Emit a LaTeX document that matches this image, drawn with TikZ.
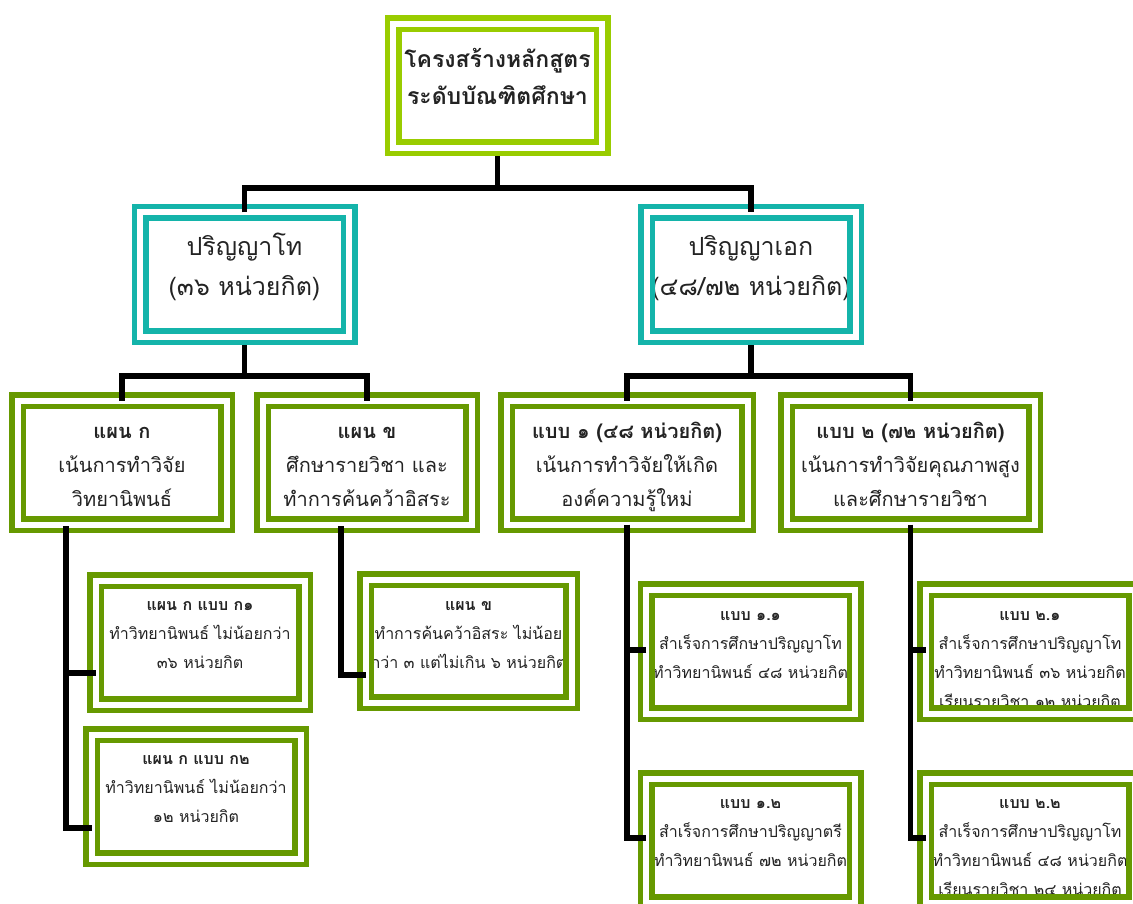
\documentclass[tikz,border=0pt]{standalone}
\usepackage{fontspec}
\setmainfont[Script=Thai]{Loma}
\pgfdeclarelayer{front}
\pgfsetlayers{main,front}

\definecolor{limegreen}{RGB}{153,204,0}
\definecolor{tealframe}{RGB}{20,180,170}
\definecolor{olivegreen}{RGB}{102,153,0}
\definecolor{ink}{RGB}{35,35,35}

% fixed first-line height so every text block starts at a known baseline
\newcommand\firstln{\rule{0pt}{1.3em}}

\tikzset{
  frame/.style={draw=#1, line width=5.5pt, double=white, double distance=6pt,
    inner sep=0pt, outer sep=0pt, minimum width=209pt, minimum height=124pt},
  link/.style={draw=black, line width=5.5pt, line join=miter},
  boxtext/.style={anchor=north, align=center, inner sep=0pt, text=ink},
  toptext/.style={boxtext, font=\fontsize{23}{37}\selectfont\bfseries},
  degtext/.style={boxtext, font=\fontsize{25}{40}\selectfont},
  plantext/.style={boxtext, font=\fontsize{20}{34}\selectfont},
  subtext/.style={boxtext, font=\fontsize{16}{29}\selectfont},
}

\begin{document}
\begin{tikzpicture}[x=1pt, y=-1pt]
\useasboundingbox (0,0) rectangle (1133,904);
\fill[white] (0,0) rectangle (1133,904);

% ---- frames (drawn above the text) ----
\begin{pgfonlayer}{front}
\node[frame=limegreen] (T) at (497.5,86) {};
\node[frame=tealframe] (M1) at (244.5,274.5) {};
\node[frame=tealframe] (M2) at (751,274.5) {};
\node[frame=olivegreen] (L1) at (122,462.5) {};
\node[frame=olivegreen] (L2) at (367,462.5) {};
\node[frame=olivegreen, minimum width=241pt] (L3) at (627,462.5) {};
\node[frame=olivegreen, minimum width=248pt] (L4) at (910.5,462.5) {};
\node[frame=olivegreen] (S1) at (200,642.5) {};
\node[frame=olivegreen] (S2) at (196,796.5) {};
\node[frame=olivegreen, minimum width=206pt, minimum height=123pt] (S3) at (468.5,641) {};
\node[frame=olivegreen] (S4) at (750.5,651.5) {};
\node[frame=olivegreen] (S5) at (750.5,840.5) {};
\node[frame=olivegreen] (S6) at (1030,651.5) {};
\node[frame=olivegreen] (S7) at (1030,840.5) {};
\end{pgfonlayer}

% ---- texts ----
\node[toptext] (Tt) at ([yshift=-13.5pt]T.north) {\firstln โครงสร้างหลักสูตร\\ระดับบัณฑิตศึกษา};
\node[degtext] (M1t) at ([yshift=-10pt]M1.north) {\firstln ปริญญาโท\\(๓๖ หน่วยกิต)};
\node[degtext] (M2t) at ([yshift=-10pt]M2.north) {\firstln ปริญญาเอก\\(๔๘/๗๒ หน่วยกิต)};
\node[plantext] (L1t) at ([yshift=-11.5pt]L1.north) {\firstln\textbf{แผน ก}\\เน้นการทำวิจัย\\วิทยานิพนธ์};
\node[plantext] (L2t) at ([yshift=-11.5pt]L2.north) {\firstln\textbf{แผน ข}\\ศึกษารายวิชา และ\\ทำการค้นคว้าอิสระ};
\node[plantext] (L3t) at ([yshift=-11.5pt]L3.north) {\firstln\textbf{แบบ ๑ (๔๘ หน่วยกิต)}\\เน้นการทำวิจัยให้เกิด\\องค์ความรู้ใหม่};
\node[plantext] (L4t) at ([yshift=-11.5pt]L4.north) {\firstln\textbf{แบบ ๒ (๗๒ หน่วยกิต)}\\เน้นการทำวิจัยคุณภาพสูง\\และศึกษารายวิชา};
\node[subtext] (S1t) at ([yshift=-9pt]S1.north) {\firstln\textbf{แผน ก แบบ ก๑}\\ทำวิทยานิพนธ์ ไม่น้อยกว่า\\๓๖ หน่วยกิต};
\node[subtext] (S2t) at ([yshift=-9pt]S2.north) {\firstln\textbf{แผน ก แบบ ก๒}\\ทำวิทยานิพนธ์ ไม่น้อยกว่า\\๑๒ หน่วยกิต};
\node[subtext] (S3t) at ([yshift=-9.5pt]S3.north) {\firstln\textbf{แผน ข}\\ทำการค้นคว้าอิสระ ไม่น้อย\\กว่า ๓ แต่ไม่เกิน ๖ หน่วยกิต};
\node[subtext] (S4t) at ([yshift=-10pt]S4.north) {\firstln\textbf{แบบ ๑.๑}\\สำเร็จการศึกษาปริญญาโท\\ทำวิทยานิพนธ์ ๔๘ หน่วยกิต};
\node[subtext] (S5t) at ([yshift=-9pt]S5.north) {\firstln\textbf{แบบ ๑.๒}\\สำเร็จการศึกษาปริญญาตรี\\ทำวิทยานิพนธ์ ๗๒ หน่วยกิต};
\node[subtext] (S6t) at ([yshift=-10pt]S6.north) {\firstln\textbf{แบบ ๒.๑}\\สำเร็จการศึกษาปริญญาโท\\ทำวิทยานิพนธ์ ๓๖ หน่วยกิต\\เรียนรายวิชา ๑๒ หน่วยกิต};
\node[subtext] (S7t) at ([yshift=-9pt]S7.north) {\firstln\textbf{แบบ ๒.๒}\\สำเร็จการศึกษาปริญญาโท\\ทำวิทยานิพนธ์ ๔๘ หน่วยกิต\\เรียนรายวิชา ๒๔ หน่วยกิต};

% ---- connectors ----
\begin{pgfonlayer}{front}
\coordinate (j0) at (497.5,188);
\coordinate (j1) at (244.5,376);
\coordinate (j2) at (751,376);
\coordinate (tk1) at (66,526);
\coordinate (tk2) at (341,526);

\draw[link] ([yshift=-8.5pt]T.south) -- (j0);
\draw[link] (M1.north) |- (j0) -| (M2.north);

\draw[link] ([yshift=-8.5pt]M1.south) -- (j1);
\draw[link] (L1.north) |- (j1) -| (L2.north);

\draw[link] ([yshift=-8.5pt]M2.south) -- (j2);
\draw[link] (L3.north) |- (j2) -| (L4.north);

\draw[link] (tk1) |- ([yshift=-31.5pt]S2.west);
\draw[link] ([yshift=-30.5pt]S1.west) -- ([yshift=-30.5pt]S1.west -| tk1);

\draw[link] (tk2) |- ([yshift=-34pt]S3.west);

\draw[link] (L3.south) |- ([yshift=2.5pt]S5.west);
\draw[link] ([yshift=1.5pt]S4.west) -- ([yshift=1.5pt]S4.west -| L3.south);

\draw[link] (L4.south) |- ([yshift=2.5pt]S7.west);
\draw[link] ([yshift=1.5pt]S6.west) -- ([yshift=1.5pt]S6.west -| L4.south);
\end{pgfonlayer}
\end{tikzpicture}
\end{document}
